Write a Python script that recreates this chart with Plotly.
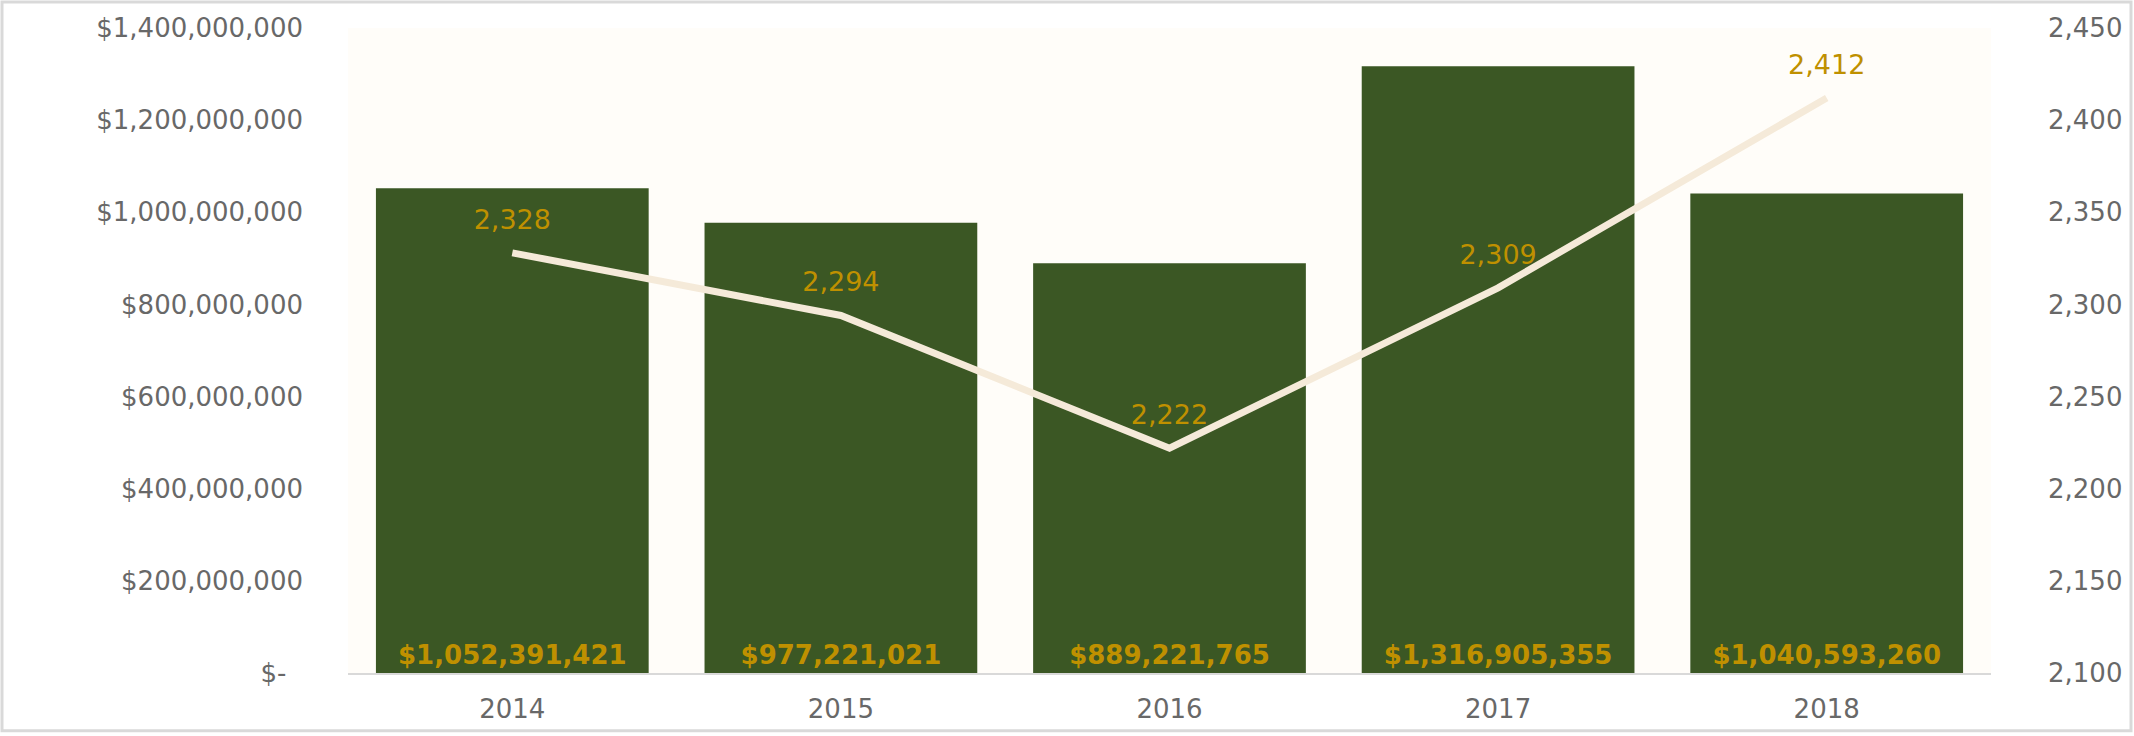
import plotly.graph_objects as go

# data
years = ["2014", "2015", "2016", "2017", "2018"]
revenue = [1052391421, 977221021, 889221765, 1316905355, 1040593260]
counts = [2328, 2294, 2222, 2309, 2412]

left_ticks = [0, 200000000, 400000000, 600000000, 800000000,
              1000000000, 1200000000, 1400000000]
left_tick_text = ["$-\u00a0\u00a0"] + [f"${v:,}" for v in left_ticks[1:]]
right_ticks = [2100, 2150, 2200, 2250, 2300, 2350, 2400, 2450]

W, H = 2134, 736
ML, MR, MT, MB = 348, 143, 28, 60
PW, PH = W - ML - MR, H - MT - MB

FONT = "DejaVu Sans"
GOLD = "#BF9000"
TICK = "#686868"

fig = go.Figure()

fig.add_trace(
    go.Bar(
        x=years,
        y=revenue,
        marker=dict(color="#3B5724", line=dict(width=0)),
        text=[f"${v:,}" for v in revenue],
        textposition="inside",
        insidetextanchor="start",
        textangle=0,
        textfont=dict(family=FONT, size=26, color=GOLD, weight="bold"),
        cliponaxis=False,
        hoverinfo="skip",
    )
)

fig.add_trace(
    go.Scatter(
        x=years,
        y=counts,
        yaxis="y2",
        mode="lines+markers+text",
        line=dict(color="#F5EAD9", width=7),
        marker=dict(size=26, color="rgba(0,0,0,0)"),
        text=[f"{v:,}" for v in counts],
        textposition="top center",
        textfont=dict(family=FONT, size=27, color=GOLD),
        cliponaxis=False,
        hoverinfo="skip",
    )
)

fig.update_layout(
    width=W,
    height=H,
    margin=dict(l=ML, r=MR, t=MT, b=MB),
    paper_bgcolor="white",
    plot_bgcolor="#FFFDF9",
    showlegend=False,
    bargap=0.17,
    font=dict(family=FONT, size=26, color=TICK),
    xaxis=dict(
        showgrid=False,
        showline=True,
        linecolor="#D9D9D9",
        linewidth=2,
        ticks="",
        ticklabelstandoff=12,
        tickfont=dict(family=FONT, size=26, color=TICK),
    ),
    yaxis=dict(
        range=[0, 1400000000],
        tickvals=left_ticks,
        ticktext=left_tick_text,
        showgrid=False,
        zeroline=False,
        ticks="",
        ticklabelstandoff=44,
        tickfont=dict(family=FONT, size=26, color=TICK),
    ),
    yaxis2=dict(
        range=[2100, 2450],
        tickvals=right_ticks,
        tickformat=",d",
        overlaying="y",
        side="right",
        showgrid=False,
        zeroline=False,
        ticks="",
        ticklabelstandoff=56,
        tickfont=dict(family=FONT, size=26, color=TICK),
    ),
    shapes=[
        dict(
            type="rect",
            xref="paper",
            yref="paper",
            x0=(2 - ML) / PW,
            x1=1 + (MR - 3) / PW,
            y0=-(MB - 2) / PH,
            y1=1 + (MT - 2) / PH,
            line=dict(color="#D9D9D9", width=3),
            layer="above",
        )
    ],
)

fig.write_html(
    "out.html",
    config={"displayModeBar": False},
    post_script="document.body.style.margin='0';",
)
